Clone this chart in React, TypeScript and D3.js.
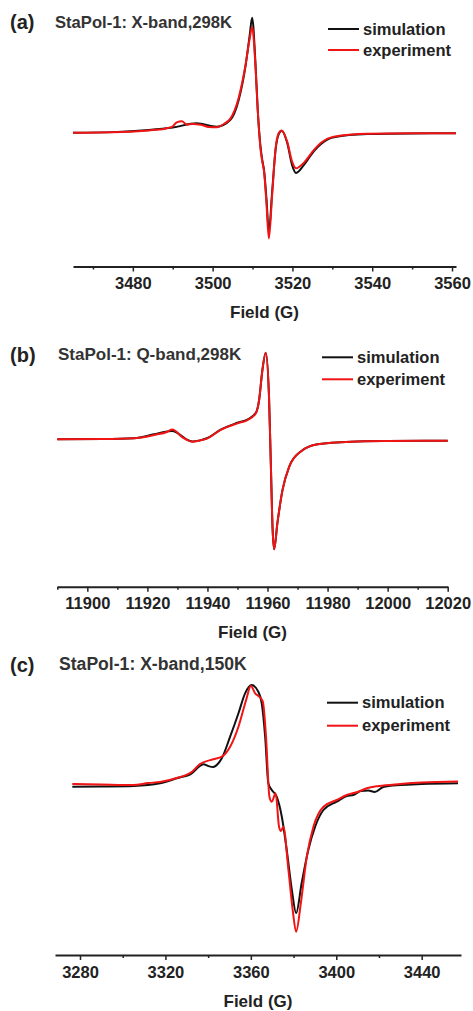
import { useEffect, useRef } from "react";
import * as d3 from "d3";

// ---- data (field in G, intensity in arbitrary units) ----
const A_FIELD_SIM = [3465, 3475, 3484, 3490, 3496, 3501, 3504.4, 3506.5, 3508.2, 3509.3, 3509.9, 3510.7, 3511.3, 3512, 3512.5, 3512.9, 3513.5, 3514.1, 3514.9, 3515.8, 3516.6, 3517.3, 3518.7, 3519.9, 3520.9, 3522.9, 3525.4, 3527.1, 3530.4, 3538.8, 3550, 3561];
const A_SIM = [0, 0.005, 0.023, 0.045, 0.082, 0.052, 0.11, 0.28, 0.57, 0.85, 1.0, 0.63, 0.2, -0.12, -0.25, -0.33, -0.58, -0.86, -0.52, -0.14, -0.01, 0.017, -0.09, -0.28, -0.35, -0.28, -0.16, -0.1, -0.04, -0.012, -0.006, -0.005];
const A_FIELD_EXP = [3465, 3475, 3484, 3488, 3489.8, 3491, 3492.3, 3493.5, 3495, 3497, 3499, 3501, 3503, 3504.4, 3506.5, 3508.2, 3509.3, 3509.9, 3510.7, 3511.3, 3512, 3512.5, 3512.9, 3513.5, 3514.1, 3514.9, 3515.8, 3516.6, 3517.3, 3518.7, 3519.9, 3520.9, 3522.9, 3525.4, 3527.1, 3530.4, 3538.8, 3550, 3561];
const A_EXP = [0, 0.003, 0.02, 0.035, 0.05, 0.09, 0.1, 0.07, 0.075, 0.07, 0.05, 0.048, 0.08, 0.12, 0.3, 0.58, 0.82, 0.92, 0.6, 0.2, -0.14, -0.26, -0.34, -0.62, -0.92, -0.55, -0.13, 0, 0.02, -0.08, -0.25, -0.31, -0.26, -0.15, -0.09, -0.035, -0.01, -0.005, -0.005];

const B_FIELD = [11890, 11905, 11915.5, 11922.2, 11926.7, 11928.3, 11931.7, 11933, 11935, 11937.5, 11940, 11944.4, 11950, 11953.3, 11956.1, 11957.2, 11958.3, 11959.4, 11960.5, 11961.1, 11961.7, 11962.2, 11963.3, 11965, 11967.2, 11971.1, 11976.7, 11987.8, 12000, 12020];
const B_SIM = [0, 0.002, 0.009, 0.045, 0.072, 0.075, 0.025, 0.0, -0.02, -0.01, 0.012, 0.088, 0.15, 0.18, 0.24, 0.357, 0.63, 0.787, 0.387, -0.218, -0.82, -1.0, -0.76, -0.46, -0.25, -0.11, -0.045, -0.022, -0.016, -0.013];
const B_EXP = [0, 0.002, 0.009, 0.039, 0.069, 0.09, 0.018, -0.002, -0.022, -0.01, 0.009, 0.085, 0.145, 0.175, 0.236, 0.357, 0.63, 0.787, 0.387, -0.218, -0.82, -1.0, -0.76, -0.46, -0.25, -0.11, -0.045, -0.022, -0.016, -0.013];

const C_FIELD_SIM = [3276.4, 3290, 3305, 3317.5, 3325.3, 3332.3, 3336.2, 3337.8, 3340, 3342.4, 3344.5, 3346.4, 3350.3, 3354.2, 3357.3, 3360.4, 3363.5, 3365.1, 3366.7, 3368.2, 3369.8, 3372.1, 3374.5, 3376.8, 3379.2, 3381.2, 3383.8, 3386.9, 3390.1, 3394, 3400.2, 3404.9, 3408, 3411.5, 3415, 3418, 3422, 3430, 3440, 3457];
const C_SIM = [-0.007, -0.005, 0, 0.027, 0.077, 0.127, 0.2, 0.217, 0.2, 0.19, 0.22, 0.277, 0.493, 0.727, 0.927, 1.01, 0.943, 0.827, 0.493, 0.027, -0.04, -0.107, -0.307, -0.64, -1.04, -1.27, -0.97, -0.64, -0.407, -0.24, -0.157, -0.1, -0.09, -0.05, -0.045, -0.06, -0.01, 0.01, 0.02, 0.027];
const C_FIELD_EXP = [3276.4, 3290, 3305, 3312, 3317.5, 3325.3, 3332.3, 3336.2, 3342.4, 3346.4, 3350.3, 3354.2, 3357.8, 3360, 3362, 3363.9, 3365.6, 3367.1, 3368.7, 3369.8, 3371.6, 3373.2, 3374.1, 3375.2, 3377.6, 3379.6, 3381.2, 3383.4, 3386.2, 3389.3, 3394, 3400.2, 3404.9, 3410, 3414.3, 3420, 3430, 3440, 3457];
const C_EXP = [0.02, 0.015, 0.01, 0.03, 0.04, 0.08, 0.14, 0.22, 0.267, 0.293, 0.393, 0.593, 0.86, 1.0, 0.927, 0.893, 0.843, 0.493, -0.107, -0.157, -0.073, -0.407, -0.45, -0.407, -0.84, -1.24, -1.457, -1.173, -0.707, -0.407, -0.207, -0.14, -0.09, -0.06, -0.023, 0, 0.02, 0.035, 0.045];

const A_MAJOR = [3480, 3500, 3520, 3540, 3560];
const A_MINOR = [3470, 3490, 3510, 3530, 3550];
const B_MAJOR = [11900, 11920, 11940, 11960, 11980, 12000, 12020];
const B_MINOR = [11890, 11910, 11930, 11950, 11970, 11990, 12010];
const C_MAJOR = [3280, 3320, 3360, 3400, 3440];
const C_MINOR = [3300, 3340, 3380, 3420];

const LEGEND = ["simulation", "experiment"];

const W = 473;
const H = 1011;
const FONT = "'Liberation Sans', Arial, sans-serif";
const TEXT = "#222";
const BLACK = "#111";
const RED = "#f01414";

interface Panel {
  tag: string;
  title: string;
  titleX: number;
  titleY: number;
  titleSize: number;
  domain: [number, number];
  range: [number, number];
  base: number; // pixel row of zero intensity
  unit: number; // pixels per intensity unit
  axisY: number;
  major: number[];
  minor: number[];
  sim: [number[], number[]];
  exp: [number[], number[]];
  legendX: number;
  legendY: number;
  legendGap: number;
}

const PANELS: Panel[] = [
  {
    tag: "(a)", title: "StaPol-1: X-band,298K", titleX: 55, titleY: 27.5, titleSize: 16.6,
    domain: [3465, 3561], range: [73, 456], base: 132.7, unit: 115, axisY: 266.5,
    major: A_MAJOR, minor: A_MINOR, sim: [A_FIELD_SIM, A_SIM], exp: [A_FIELD_EXP, A_EXP],
    legendX: 328, legendY: 29, legendGap: 21,
  },
  {
    tag: "(b)", title: "StaPol-1: Q-band,298K", titleX: 58, titleY: 360, titleSize: 17,
    domain: [11890, 12020], range: [57.3, 447.7], base: 439.3, unit: 110, axisY: 586.7,
    major: B_MAJOR, minor: B_MINOR, sim: [B_FIELD, B_SIM], exp: [B_FIELD, B_EXP],
    legendX: 322, legendY: 357.3, legendGap: 22,
  },
  {
    tag: "(c)", title: "StaPol-1: X-band,150K", titleX: 59, titleY: 670, titleSize: 17.6,
    domain: [3268.3, 3458.4], range: [55, 461], base: 786, unit: 100, axisY: 955,
    major: C_MAJOR, minor: C_MINOR, sim: [C_FIELD_SIM, C_SIM], exp: [C_FIELD_EXP, C_EXP],
    legendX: 327, legendY: 702.7, legendGap: 23,
  },
];

export default function App() {
  const svgRef = useRef<SVGSVGElement>(null);

  useEffect(() => {
    const svg = d3.select(svgRef.current);
    svg.selectAll("*").remove();

    PANELS.forEach((p) => {
      const g = svg.append("g");
      const x = d3.scaleLinear().domain(p.domain).range(p.range);
      const y = d3
        .scaleLinear()
        .domain([-1, 1])
        .range([p.base + p.unit, p.base - p.unit]);

      // panel tag + title
      g.append("text")
        .attr("x", 10)
        .attr("y", p.titleY + 1.5)
        .attr("font-family", FONT)
        .attr("font-weight", "bold")
        .attr("font-size", "20px")
        .attr("fill", TEXT)
        .text(p.tag);
      g.append("text")
        .attr("x", p.titleX)
        .attr("y", p.titleY)
        .attr("font-family", FONT)
        .attr("font-weight", "bold")
        .attr("font-size", `${p.titleSize}px`)
        .attr("fill", "#333")
        .text(p.title);

      // spectra
      const line = d3
        .line<[number, number]>()
        .x((d) => x(d[0]))
        .y((d) => y(d[1]))
        .curve(d3.curveMonotoneX);

      const series: Array<[[number[], number[]], string]> = [
        [p.sim, BLACK],
        [p.exp, RED],
      ];
      series.forEach(([[fx, fy], color]) => {
        const pts = fx.map((f, i) => [f, fy[i]] as [number, number]);
        g.append("path")
          .attr("d", line(pts) ?? "")
          .attr("fill", "none")
          .attr("stroke", color)
          .attr("stroke-width", 2)
          .attr("stroke-linejoin", "round");
      });

      // legend
      LEGEND.forEach((label, i) => {
        const ly = p.legendY + i * p.legendGap;
        g.append("line")
          .attr("x1", p.legendX)
          .attr("x2", p.legendX + 31)
          .attr("y1", ly)
          .attr("y2", ly)
          .attr("stroke", i === 0 ? BLACK : RED)
          .attr("stroke-width", 2);
        g.append("text")
          .attr("x", p.legendX + 35)
          .attr("y", ly + 5.5)
          .attr("font-family", FONT)
          .attr("font-weight", "bold")
          .attr("font-size", "16.5px")
          .attr("fill", TEXT)
          .text(label);
      });

      // x axis: minor ticks, then major ticks with labels
      const minorAxis = d3
        .axisBottom(x)
        .tickValues(p.minor)
        .tickSize(3)
        .tickSizeOuter(0)
        .tickFormat(() => "");
      const minorG = g
        .append("g")
        .attr("transform", `translate(0,${p.axisY})`)
        .call(minorAxis);
      minorG.select(".domain").remove();
      minorG.selectAll(".tick line").attr("stroke", TEXT).attr("stroke-width", 1.5);

      const majorAxis = d3
        .axisBottom(x)
        .tickValues(p.major)
        .tickSize(5)
        .tickSizeOuter(0)
        .tickFormat((v) => String(v));
      const axisG = g
        .append("g")
        .attr("transform", `translate(0,${p.axisY})`)
        .call(majorAxis);
      axisG.select(".domain").attr("stroke", TEXT).attr("stroke-width", 2);
      axisG.selectAll(".tick line").attr("stroke", TEXT).attr("stroke-width", 1.5);
      axisG
        .selectAll(".tick text")
        .attr("y", 22.5)
        .attr("dy", 0)
        .attr("font-family", FONT)
        .attr("font-weight", "bold")
        .attr("font-size", "16.5px")
        .attr("fill", TEXT);

      g.append("text")
        .attr("x", (p.range[0] + p.range[1]) / 2)
        .attr("y", p.axisY + 51.5)
        .attr("text-anchor", "middle")
        .attr("font-family", FONT)
        .attr("font-weight", "bold")
        .attr("font-size", "17px")
        .attr("fill", TEXT)
        .text("Field (G)");
    });
  }, []);

  return (
    <svg
      ref={svgRef}
      width={W}
      height={H}
      style={{ position: "absolute", left: 0, top: 0, background: "#fff" }}
    />
  );
}
